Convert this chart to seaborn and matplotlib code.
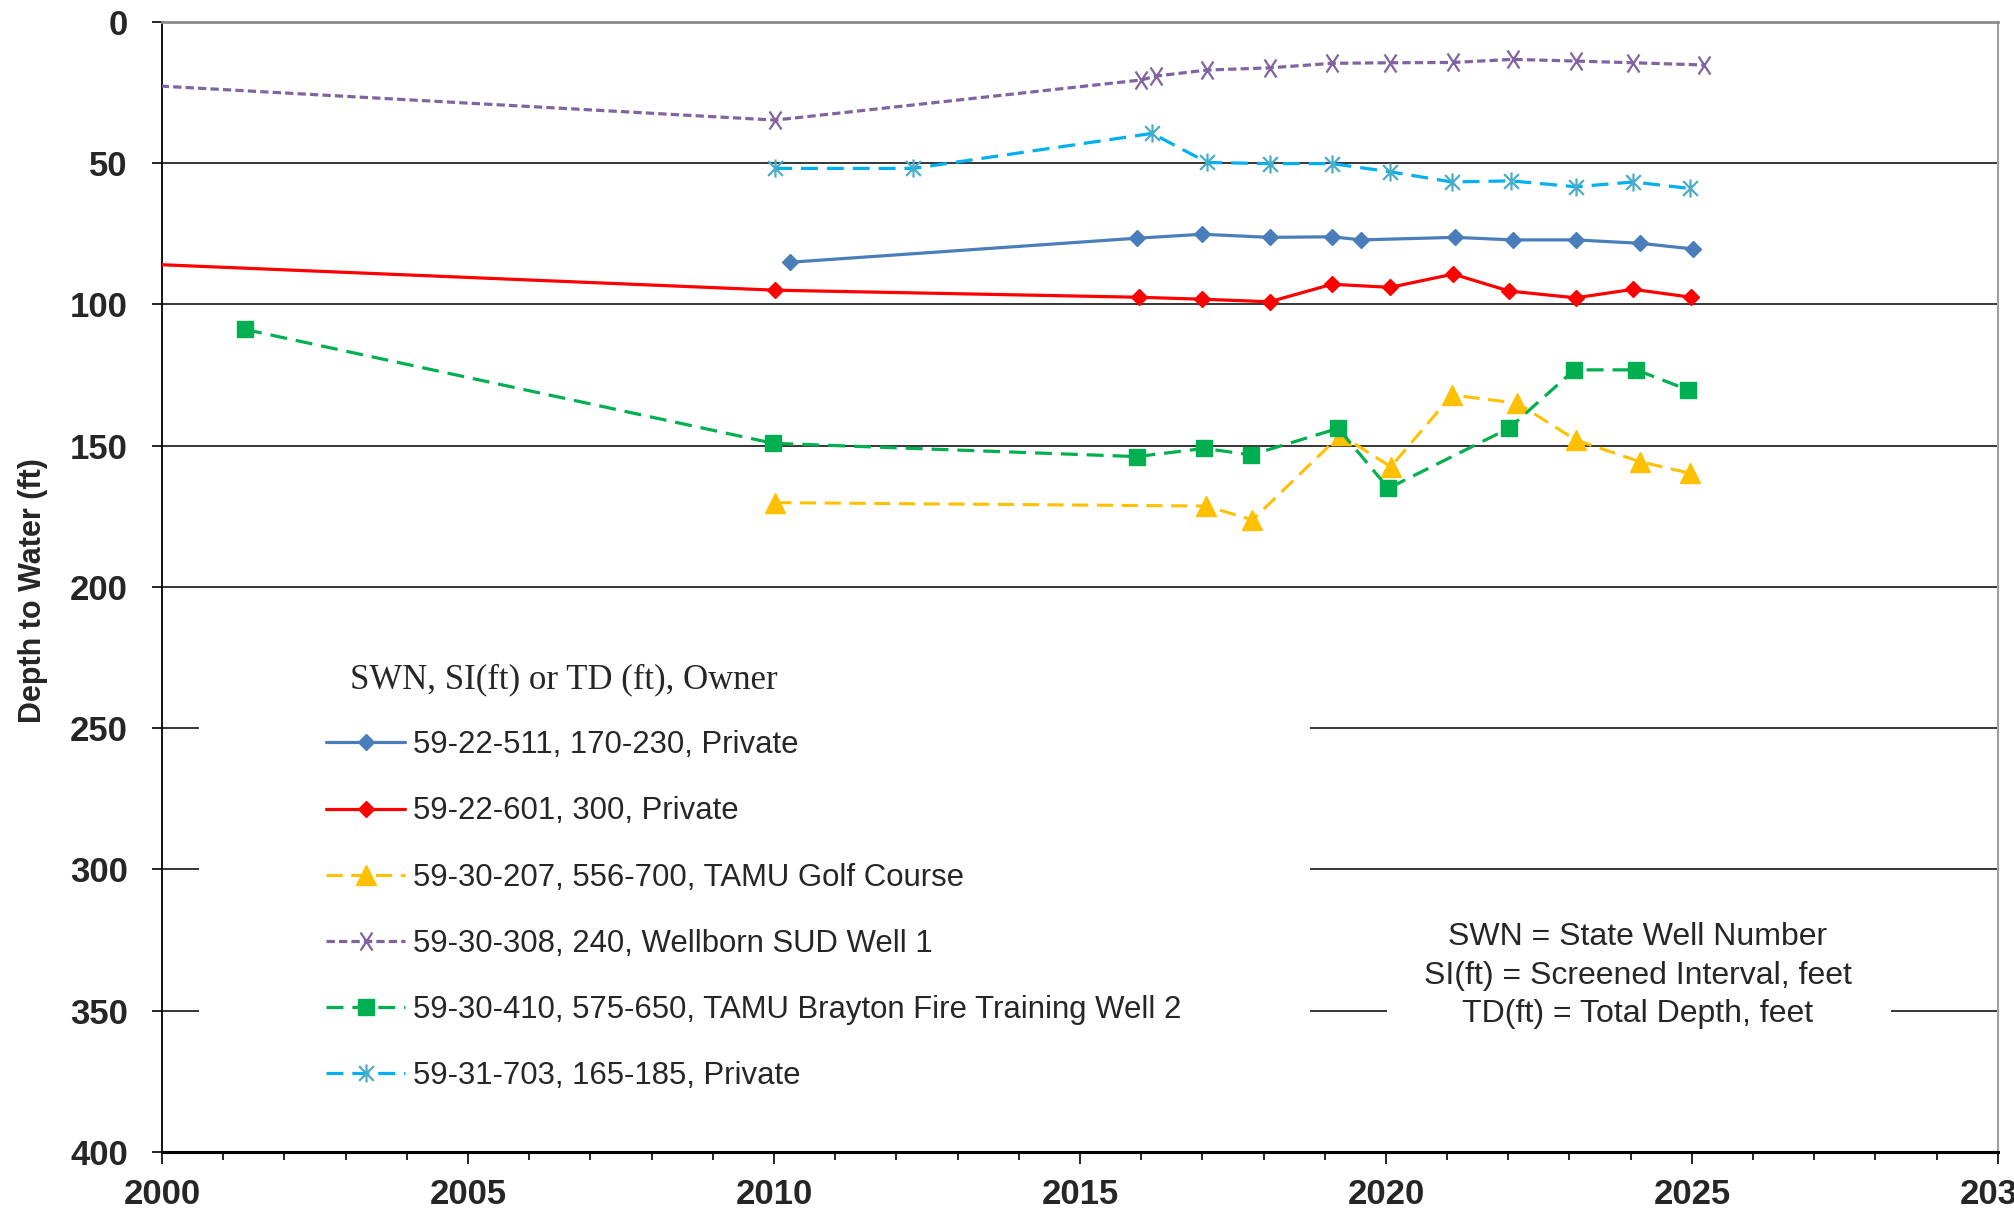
import numpy as np
import pandas as pd
import matplotlib
matplotlib.use("Agg")
import matplotlib.pyplot as plt
from matplotlib.patches import Rectangle
from matplotlib.path import Path
from matplotlib.font_manager import FontProperties
import seaborn as sns

# ---------------- data ----------------
well_labels = [
    "59-22-511, 170-230, Private",
    "59-22-601, 300, Private",
    "59-30-207, 556-700, TAMU Golf Course",
    "59-30-308, 240, Wellborn SUD Well 1",
    "59-30-410, 575-650, TAMU Brayton Fire Training Well 2",
    "59-31-703, 165-185, Private",
]

years_511 = [2010.27, 2015.93, 2017.0, 2018.1, 2019.12, 2019.6, 2021.13, 2022.07, 2023.1, 2024.15, 2025.02]
depth_511 = [85.1, 76.6, 75.2, 76.3, 76.1, 77.2, 76.3, 77.2, 77.2, 78.4, 80.4]

years_601 = [1995.0, 2010.02, 2015.96, 2017.0, 2018.1, 2019.12, 2020.07, 2021.1, 2022.01, 2023.1, 2024.04, 2024.99]
depth_601 = [81.5, 95.0, 97.5, 98.2, 99.1, 92.9, 94.0, 89.3, 95.3, 97.7, 94.7, 97.5]

years_207 = [2010.02, 2017.06, 2017.82, 2019.26, 2020.08, 2021.08, 2022.15, 2023.1, 2024.15, 2024.97]
depth_207 = [170.2, 171.4, 176.3, 146.2, 157.5, 132.1, 135.0, 148.0, 155.7, 159.8]

years_308 = [1995.0, 2010.02, 2016.0, 2016.25, 2017.07, 2018.1, 2019.12, 2020.07, 2021.1, 2022.07, 2023.1, 2024.04, 2025.19]
depth_308 = [16.8, 34.8, 20.6, 19.2, 17.1, 16.3, 14.7, 14.5, 14.4, 13.3, 13.9, 14.5, 15.3]

years_410 = [2001.36, 2009.99, 2015.93, 2017.03, 2017.8, 2019.22, 2020.04, 2022.01, 2023.08, 2024.09, 2024.94]
depth_410 = [108.9, 149.2, 153.9, 151.0, 153.3, 143.9, 165.1, 143.9, 123.2, 123.2, 130.3]

years_703 = [2010.02, 2012.28, 2016.18, 2017.08, 2018.1, 2019.12, 2020.07, 2021.08, 2022.04, 2023.1, 2024.04, 2024.97]
depth_703 = [51.9, 51.9, 39.5, 49.8, 50.2, 50.2, 53.1, 56.7, 56.3, 58.4, 56.7, 59.0]

x_ticks = [2000, 2005, 2010, 2015, 2020, 2025, 2030]
x_tick_labels = ["2000", "2005", "2010", "2015", "2020", "2025", "2030"]
y_ticks = [0, 50, 100, 150, 200, 250, 300, 350, 400]
y_tick_labels = ["0", "50", "100", "150", "200", "250", "300", "350", "400"]

legend_title = "SWN, SI(ft) or TD (ft), Owner"
note_text = "SWN = State Well Number\nSI(ft) = Screened Interval, feet\nTD(ft) = Total Depth, feet"
y_label = "Depth to Water (ft)"

# ---------------- style ----------------
sns.set_style("white")
plt.rcParams["font.family"] = ["Liberation Sans", "DejaVu Sans"]

star_path = Path([(-0.45, -0.45), (0.45, 0.45), (-0.45, 0.45), (0.45, -0.45), (0, -0.55), (0, 0.55)],
                 [Path.MOVETO, Path.LINETO, Path.MOVETO, Path.LINETO, Path.MOVETO, Path.LINETO])
x_path = Path([(-0.33, -0.5), (0.33, 0.5), (-0.33, 0.5), (0.33, -0.5)],
              [Path.MOVETO, Path.LINETO, Path.MOVETO, Path.LINETO])

series = [
    dict(x=years_511, y=depth_511, color="#4A7EBB", mec="#4A7EBB", marker="D", ms=8.3, mew=1.0, lw=2.3, dashes=None),
    dict(x=years_601, y=depth_601, color="#FF0000", mec="#FF0000", marker="D", ms=8.3, mew=1.0, lw=2.3, dashes=None),
    dict(x=years_207, y=depth_207, color="#FFC000", mec="#FFC000", marker="^", ms=15, mew=1.0, lw=2.2, dashes=(5.3, 2.8)),
    dict(x=years_308, y=depth_308, color="#8064A2", mec="#8064A2", marker=x_path, ms=13, mew=1.6, lw=2.3, dashes=(2.6, 1.3)),
    dict(x=years_410, y=depth_410, color="#00B050", mec="#00B050", marker="s", ms=11, mew=1.0, lw=2.3, dashes=(5.3, 2.8)),
    dict(x=years_703, y=depth_703, color="#00B0F0", mec="#4BACC6", marker=star_path, ms=13, mew=1.6, lw=2.3, dashes=(5.3, 2.8)),
]

fig = plt.figure(figsize=(20.14, 12.10), dpi=100)
ax = fig.add_axes([0.0804, 0.048, 0.9116, 0.934])

handles = []
for lab, s in zip(well_labels, series):
    df = pd.DataFrame({"year": s["x"], "depth": s["y"]})
    n_before = len(ax.lines)
    sns.lineplot(data=df, x="year", y="depth", ax=ax, color=s["color"], marker=s["marker"],
                 markersize=s["ms"], markeredgecolor=s["mec"], markerfacecolor=s["color"],
                 markeredgewidth=s["mew"], linewidth=s["lw"], sort=False, estimator=None,
                 legend=False, zorder=3)
    line = ax.lines[n_before]
    if s["dashes"] is not None:
        line.set_dashes(s["dashes"])
    line.set_label(lab)
    handles.append(line)

ax.set_xlim(2000, 2030)
ax.set_ylim(400, 0)

ax.set_xticks(x_ticks)
ax.set_xticklabels(x_tick_labels)
ax.set_xticks(np.arange(2000, 2031, 1), minor=True)
ax.set_yticks(y_ticks)
ax.set_yticklabels(y_tick_labels)

ax.tick_params(axis="y", which="major", direction="out", length=7.5, width=1.2, pad=17,
               labelsize=25, color="black", left=True)
ax.tick_params(axis="x", which="major", direction="out", length=8.5, width=1.2, pad=10,
               labelsize=25, color="black", bottom=True)
ax.tick_params(axis="x", which="minor", direction="out", length=6.0, width=1.2, color="black", bottom=True)
for t in ax.get_xticklabels() + ax.get_yticklabels():
    t.set_fontweight("bold")

ax.set_axisbelow(True)
ax.yaxis.grid(True, color="#262626", linewidth=1.3)
ax.xaxis.grid(False)

ax.spines["top"].set_color("#8C8C8C")
ax.spines["top"].set_linewidth(2.0)
ax.spines["right"].set_color("#A0A0A0")
ax.spines["right"].set_linewidth(1.5)
ax.spines["left"].set_color("black")
ax.spines["left"].set_linewidth(1.3)
ax.spines["bottom"].set_color("black")
ax.spines["bottom"].set_linewidth(2.2)

ax.set_xlabel("")
ax.set_ylabel(y_label, fontsize=22, fontweight="bold")
ax.yaxis.set_label_coords(-0.0621, 0.497)

# white panels behind legend and note (hide gridlines)
ax.add_patch(Rectangle((0.0202, 0.02), 0.605, 0.45, transform=ax.transAxes,
                       facecolor="white", edgecolor="none", zorder=1))
ax.add_patch(Rectangle((0.667, 0.09), 0.275, 0.14, transform=ax.transAxes,
                       facecolor="white", edgecolor="none", zorder=1))

leg = ax.legend(handles=handles, labels=well_labels, loc="upper left",
                bbox_to_anchor=(0.0893, 0.373), frameon=False, borderpad=0, borderaxespad=0,
                handlelength=2.55, handletextpad=0.26, labelspacing=1.16, numpoints=1,
                prop=FontProperties(family="Liberation Sans", size=22.4))
leg.set_zorder(5)

ax.text(0.1024, 0.4105, legend_title, transform=ax.transAxes, ha="left", va="baseline",
        fontsize=25, family=["Liberation Serif", "DejaVu Serif"], zorder=5)

ax.text(0.804, 0.156, note_text, transform=ax.transAxes, ha="center", va="center",
        multialignment="center", fontsize=23, linespacing=1.36, zorder=5)

fig.savefig("out.png", dpi=100)
